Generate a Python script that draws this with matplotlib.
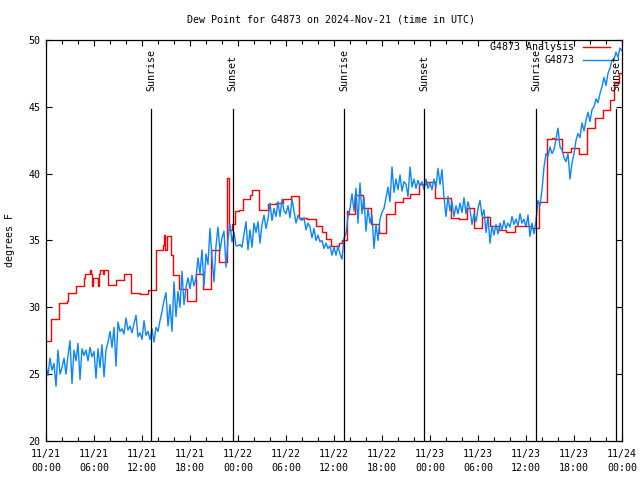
import numpy as np
import pandas as pd
import matplotlib
matplotlib.use('Agg')
import matplotlib.pyplot as plt
import matplotlib.dates as mdates

# Analysis series (hours after 2024-11-21 00:00 UTC, dew point F), drawn as steps
red_hours = [0.0, 0.67, 1.67, 2.6, 2.75, 3.7, 4.75, 4.85, 5.5, 5.6, 5.7, 5.85,
             6.5, 6.6, 6.75, 7.1, 7.25, 7.75, 8.7, 9.7, 10.67, 11.75, 12.75,
             13.75, 14.67, 14.8, 14.9, 15.1, 15.6, 15.9, 16.67, 17.67, 18.7,
             19.6, 20.67, 21.67, 22.67, 22.9, 23.2, 23.6, 24.1, 24.6, 25.5,
             25.7, 26.67, 27.7, 28.7, 29.67, 30.6, 31.67, 32.67, 33.75, 34.5,
             34.95, 35.6, 36.67, 37.0, 37.6, 37.9, 38.67, 39.6, 40.6, 41.6,
             42.5, 43.6, 44.6, 45.5, 46.6, 47.6, 48.6, 50.6, 51.6, 52.6, 53.5,
             54.5, 55.5, 56.6, 57.5, 58.6, 59.6, 60.6, 61.6, 62.6, 63.3, 63.5,
             64.5, 65.6, 66.6, 67.6, 68.6, 69.6, 70.5, 71.0, 71.6, 72.0]
red_vals = [27.5, 29.1, 30.3, 30.5, 31.1, 31.6, 32.2, 32.5, 32.8, 32.5, 31.6, 32.2,
            31.6, 32.5, 32.8, 32.5, 32.8, 31.65, 32.05, 32.5, 31.1, 31.0, 31.3,
            34.3, 34.7, 35.4, 34.3, 35.3, 33.9, 32.4, 31.4, 30.5, 32.5,
            31.4, 34.3, 33.4, 39.7, 35.8, 36.2, 37.2, 37.3, 38.1, 38.4,
            38.75, 37.3, 37.7, 37.8, 38.1, 38.3, 36.7, 36.6, 36.1, 35.65,
            35.1, 34.6, 34.85, 35.0, 37.2, 37.0, 38.4, 37.45, 36.2, 35.55,
            37.0, 37.85, 38.2, 38.5, 39.2, 39.35, 38.15, 36.7, 36.6, 37.4, 35.9,
            36.75, 36.1, 35.8, 35.65, 36.1, 36.1, 35.9, 37.9, 42.6, 42.7, 42.6,
            41.6, 41.9, 41.5, 43.4, 44.15, 44.8, 45.5, 46.8, 47.5, 47.5]

# Station observations, every 15 minutes (one row per hour)
blue_vals = [
    25.6, 24.9, 26.2, 25.3,
    25.8, 24.1, 26.8, 25.0,
    25.5, 26.2, 25.0, 26.4,
    27.5, 24.3, 26.8, 26.0,
    27.3, 24.6, 26.9, 26.4,
    26.8, 26.0, 27.0, 26.3,
    26.7, 24.7, 26.9, 25.5,
    27.2, 24.8, 26.8, 27.4,
    28.2, 27.0, 28.5, 25.6,
    28.9, 28.2, 28.4, 28.0,
    29.2, 28.3, 28.6, 28.1,
    28.8, 29.4, 27.8, 28.1,
    27.6, 29.0, 27.9, 28.2,
    27.6, 28.4, 27.4, 28.5,
    28.2, 29.0, 29.7, 30.5,
    31.1, 28.6, 30.2, 28.2,
    31.9, 29.3, 31.2, 30.0,
    32.7, 30.2, 31.5, 32.2,
    31.4, 32.4, 31.6, 32.2,
    33.7, 32.5, 34.3, 31.6,
    34.0, 33.2, 35.9, 33.7,
    31.9, 34.6, 36.0, 34.2,
    35.2, 35.7, 33.0, 35.1,
    36.2, 34.9, 35.6, 34.6,
    34.6, 34.7, 34.5, 35.5,
    36.4, 34.3, 35.8, 34.5,
    36.3, 35.6, 36.4, 34.8,
    36.2, 36.9, 35.9, 36.6,
    37.8, 36.5, 37.4, 36.8,
    37.9, 36.8, 38.1, 37.2,
    37.0, 37.6, 36.7, 38.1,
    37.2, 36.3, 36.9, 36.6,
    36.5, 36.7, 35.8, 36.3,
    36.0, 35.2, 35.9, 35.0,
    35.4, 34.9, 35.0, 34.4,
    34.8, 34.4, 34.6, 33.9,
    34.5, 33.9, 34.6, 34.0,
    33.6, 35.2, 35.5, 36.8,
    37.4, 38.5, 37.2, 38.9,
    36.3, 39.3, 37.0, 38.2,
    35.7, 37.4, 36.3, 36.9,
    34.4, 36.2, 35.0, 36.6,
    37.1, 37.4, 38.2, 39.0,
    37.9, 40.5, 38.6, 39.6,
    38.8, 39.9, 38.7, 39.4,
    39.2, 38.3, 40.5, 39.0,
    39.6, 38.9, 39.5, 39.1,
    39.4, 38.8, 39.6, 38.9,
    39.3, 38.8, 39.6, 39.0,
    40.4, 39.2, 40.3, 38.2,
    36.8, 38.3, 37.2, 37.9,
    36.8, 37.6, 37.0, 37.8,
    37.1, 38.2, 37.0, 37.9,
    37.3, 36.2, 37.0, 36.4,
    37.4, 38.0, 36.8, 37.3,
    35.6, 36.8, 34.8, 36.1,
    35.4, 36.2, 35.5, 36.3,
    35.8, 36.5, 35.9, 36.3,
    36.0, 36.8, 36.2, 36.6,
    36.1, 37.0, 36.3, 36.6,
    36.0, 36.9, 35.3, 36.3,
    35.5, 36.5, 38.0, 37.6,
    38.8, 40.5, 41.5, 41.3,
    42.0, 41.5, 41.8, 42.6,
    43.4, 42.0, 41.8, 41.2,
    40.9, 41.5, 39.6, 40.8,
    41.5, 42.5, 43.0, 42.7,
    43.8, 43.2, 44.0, 44.6,
    43.9, 44.8, 45.0, 45.6,
    45.3, 46.0, 46.5, 47.2,
    46.6, 47.5, 47.9, 48.5,
    48.5, 49.1, 48.7, 49.4,
    49.2,
]

sun_hours = [13.15, 23.35, 37.25, 47.25, 61.25, 71.25]
sun_labels = ['Sunrise', 'Sunset', 'Sunrise', 'Sunset', 'Sunrise', 'Sunset']

start = pd.Timestamp('2024-11-21 00:00')
red_t = start + pd.to_timedelta(red_hours, unit='h')
blue_t = pd.date_range(start, periods=len(blue_vals), freq='15min')
sun_t = start + pd.to_timedelta(sun_hours, unit='h')

plt.rcParams['font.family'] = 'DejaVu Sans Mono'
fs = 7.2

fig = plt.figure(figsize=(6.4, 4.8), dpi=100)
ax = fig.add_axes([46 / 640, 39 / 480, 576 / 640, 401 / 480])

ax.step(red_t, red_vals, where='post', color='#ff0000', lw=1.0, label='G4873 Analysis')
ax.plot(blue_t, blue_vals, color='#0a85ff', lw=1.0, label='G4873')

for t, lab in zip(sun_t, sun_labels):
    ax.axvline(t, ymin=0, ymax=0.828, color='black', lw=0.9)
    ax.text(t, 0.872, lab, transform=ax.get_xaxis_transform(), rotation=90,
            ha='center', va='bottom', fontsize=fs)

ax.set_xlim(start, start + pd.Timedelta(hours=72))
ax.set_ylim(20, 50)
ax.set_yticks(np.arange(20, 51, 5))
ax.xaxis.set_major_locator(mdates.HourLocator(byhour=[0, 6, 12, 18]))
ax.xaxis.set_minor_locator(mdates.HourLocator(interval=2))
ax.xaxis.set_major_formatter(mdates.DateFormatter('%m/%d\n%H:%M'))
ax.tick_params(axis='both', which='both', direction='in', top=True, right=True,
               labelsize=fs, width=0.8)
ax.tick_params(axis='both', which='major', length=4.5)
ax.tick_params(axis='x', which='minor', length=3)
ax.tick_params(axis='x', which='major', pad=6)
ax.tick_params(axis='y', which='major', pad=4)
for lbl in ax.get_xticklabels():
    lbl.set_linespacing(1.45)
for sp in ax.spines.values():
    sp.set_linewidth(0.9)

ax.legend(loc='upper right', bbox_to_anchor=(0.98, 0.995), frameon=False,
          markerfirst=False, fontsize=fs, handlelength=2.7, handletextpad=0.9,
          labelspacing=0.3, borderpad=0, borderaxespad=0)

fig.text(331 / 640, 1 - 20 / 480, 'Dew Point for G4873 on 2024-Nov-21 (time in UTC)',
         ha='center', va='center', fontsize=fs)
fig.text(10 / 640, 0.5, 'degrees F', rotation=90, ha='center', va='center', fontsize=fs)

fig.savefig('out.png', dpi=100)
